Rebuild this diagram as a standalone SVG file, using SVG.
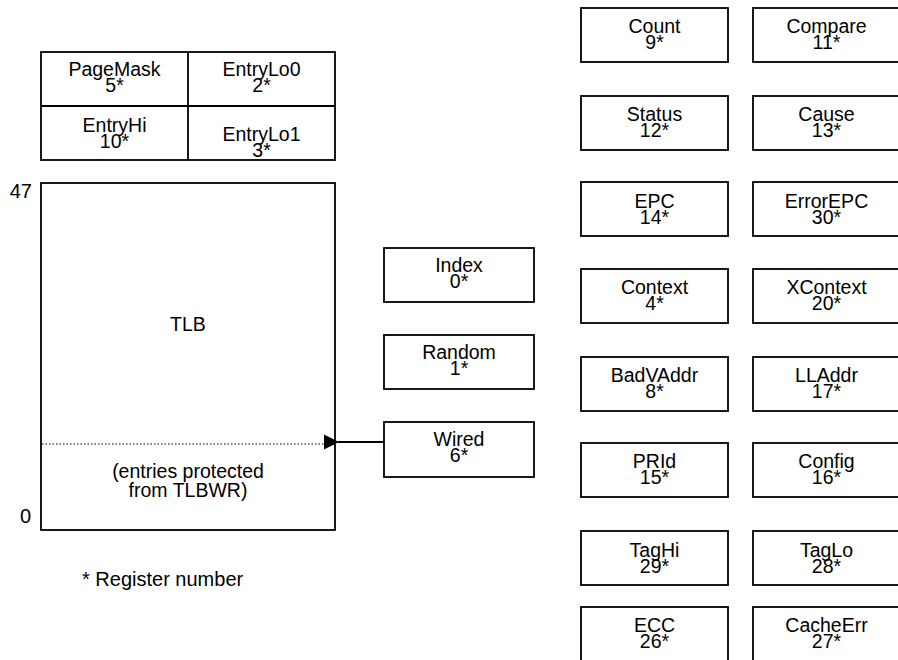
<svg xmlns="http://www.w3.org/2000/svg" width="898" height="660" viewBox="0 0 898 660">
<style>
  .box { fill: #fff; stroke: #000; stroke-width: 1.8; }
  .t { font-family: "Liberation Sans", Arial, Helvetica, sans-serif; font-size: 19.5px; fill: #000; text-anchor: middle; }
  .te { font-family: "Liberation Sans", Arial, Helvetica, sans-serif; font-size: 20px; fill: #000; text-anchor: end; }
  .ts { font-family: "Liberation Sans", Arial, Helvetica, sans-serif; font-size: 20px; fill: #000; text-anchor: start; }
  .conn { stroke: #000; stroke-width: 1.8; fill: none; }
  .dot { stroke: #000; stroke-width: 1; stroke-dasharray: 1.5 2; fill: none; }
</style>
<defs>
  <marker id="ah" markerWidth="16" markerHeight="16" refX="1" refY="8" orient="auto" markerUnits="userSpaceOnUse">
    <path d="M15,0.5 L0,8 L15,15.5 Z" fill="#000"/>
  </marker>
</defs>
<rect width="898" height="660" fill="#fff"/>

<g id="entry-table">
  <rect class="box" x="41" y="52" width="294" height="108"/>
  <line class="conn" x1="188" y1="52" x2="188" y2="160"/>
  <line class="conn" x1="41" y1="106" x2="335" y2="106"/>
  <text class="t" x="114.5" y="76">PageMask</text>
  <text class="t" x="114.5" y="92">5*</text>
  <text class="t" x="261.5" y="76">EntryLo0</text>
  <text class="t" x="261.5" y="92">2*</text>
  <text class="t" x="114.5" y="132">EntryHi</text>
  <text class="t" x="114.5" y="148">10*</text>
  <text class="t" x="261.5" y="141">EntryLo1</text>
  <text class="t" x="261.5" y="157">3*</text>
</g>

<g id="tlb">
  <rect class="box" x="41" y="183" width="294" height="347"/>
  <line class="dot" x1="42" y1="444" x2="334" y2="444"/>
  <text class="t" x="188" y="331">TLB</text>
  <text class="t" x="188" y="478">(entries protected</text>
  <text class="t" x="188" y="497">from TLBWR)</text>
  <text class="te" x="32" y="198">47</text>
  <text class="te" x="31" y="523">0</text>
</g>

<text class="ts" x="82" y="586">* Register number</text>

<g id="index">
  <rect class="box" x="384" y="248" width="150" height="54"/>
  <text class="t" x="459" y="272">Index</text>
  <text class="t" x="459" y="288">0*</text>
</g>
<g id="random">
  <rect class="box" x="384" y="335" width="150" height="54"/>
  <text class="t" x="459" y="359">Random</text>
  <text class="t" x="459" y="375">1*</text>
</g>
<g id="wired">
  <rect class="box" x="384" y="422" width="150" height="55"/>
  <text class="t" x="459" y="446">Wired</text>
  <text class="t" x="459" y="462">6*</text>
</g>

<g id="connectors">
  <line class="conn" x1="384" y1="442" x2="338" y2="442" marker-end="url(#ah)"/>
</g>

<g id="count"><rect class="box" x="581" y="8" width="147" height="54"/><text class="t" x="654.5" y="33">Count</text><text class="t" x="654.5" y="49">9*</text></g>
<g id="compare"><rect class="box" x="753" y="8" width="147" height="54"/><text class="t" x="826.5" y="33">Compare</text><text class="t" x="826.5" y="49">11*</text></g>

<g id="status"><rect class="box" x="581" y="96" width="147" height="54"/><text class="t" x="654.5" y="121">Status</text><text class="t" x="654.5" y="137">12*</text></g>
<g id="cause"><rect class="box" x="753" y="96" width="147" height="54"/><text class="t" x="826.5" y="121">Cause</text><text class="t" x="826.5" y="137">13*</text></g>

<g id="epc"><rect class="box" x="581" y="182" width="147" height="54"/><text class="t" x="654.5" y="208">EPC</text><text class="t" x="654.5" y="224">14*</text></g>
<g id="errorepc"><rect class="box" x="753" y="182" width="147" height="54"/><text class="t" x="826.5" y="208">ErrorEPC</text><text class="t" x="826.5" y="224">30*</text></g>

<g id="context"><rect class="box" x="581" y="269" width="147" height="54"/><text class="t" x="654.5" y="294">Context</text><text class="t" x="654.5" y="310">4*</text></g>
<g id="xcontext"><rect class="box" x="753" y="269" width="147" height="54"/><text class="t" x="826.5" y="294">XContext</text><text class="t" x="826.5" y="310">20*</text></g>

<g id="badvaddr"><rect class="box" x="581" y="357" width="147" height="54"/><text class="t" x="654.5" y="382">BadVAddr</text><text class="t" x="654.5" y="398">8*</text></g>
<g id="lladdr"><rect class="box" x="753" y="357" width="147" height="54"/><text class="t" x="826.5" y="382">LLAddr</text><text class="t" x="826.5" y="398">17*</text></g>

<g id="prid"><rect class="box" x="581" y="443" width="147" height="54"/><text class="t" x="654.5" y="468">PRId</text><text class="t" x="654.5" y="484">15*</text></g>
<g id="config"><rect class="box" x="753" y="443" width="147" height="54"/><text class="t" x="826.5" y="468">Config</text><text class="t" x="826.5" y="484">16*</text></g>

<g id="taghi"><rect class="box" x="581" y="531" width="147" height="54"/><text class="t" x="654.5" y="557">TagHi</text><text class="t" x="654.5" y="573">29*</text></g>
<g id="taglo"><rect class="box" x="753" y="531" width="147" height="54"/><text class="t" x="826.5" y="557">TagLo</text><text class="t" x="826.5" y="573">28*</text></g>

<g id="ecc"><rect class="box" x="581" y="607" width="147" height="56"/><text class="t" x="654.5" y="632">ECC</text><text class="t" x="654.5" y="648">26*</text></g>
<g id="cacheerr"><rect class="box" x="753" y="607" width="147" height="56"/><text class="t" x="826.5" y="632">CacheErr</text><text class="t" x="826.5" y="648">27*</text></g>
</svg>
